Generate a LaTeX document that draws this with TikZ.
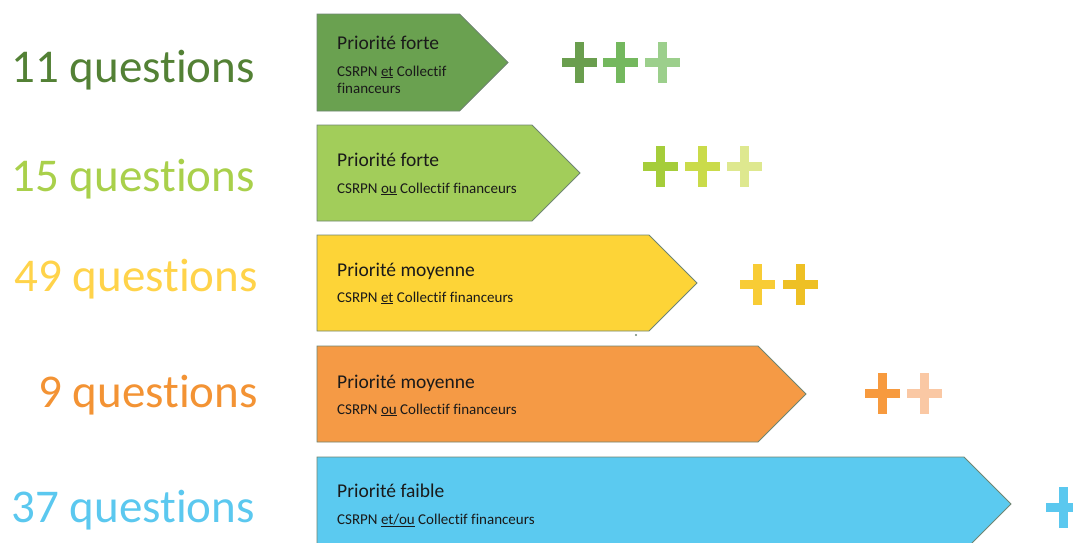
\documentclass[tikz,border=0pt]{standalone}
\usepackage{fontspec}
\setmainfont{Carlito}[RawFeature={-liga}]
\definecolor{cA}{HTML}{6AA150}
\definecolor{cB}{HTML}{A2CD5A}
\definecolor{cC}{HTML}{FDD437}
\definecolor{cD}{HTML}{F59A45}
\definecolor{cE}{HTML}{5BCAF0}
\definecolor{tA}{HTML}{538135}
\definecolor{tB}{HTML}{A9D04B}
\definecolor{tC}{HTML}{FFD34A}
\definecolor{tD}{HTML}{F39334}
\definecolor{tE}{HTML}{5BC8EF}
\definecolor{pA1}{HTML}{6A9E4E}
\definecolor{pA2}{HTML}{74B85E}
\definecolor{pA3}{HTML}{9CCF8C}
\definecolor{pB1}{HTML}{A5CD3A}
\definecolor{pB2}{HTML}{CADB4A}
\definecolor{pB3}{HTML}{DEE88F}
\definecolor{pC1}{HTML}{F8CC35}
\definecolor{pC2}{HTML}{EEC024}
\definecolor{pD1}{HTML}{F79A3E}
\definecolor{pD2}{HTML}{FAC8A4}
\definecolor{pE1}{HTML}{5BC8EF}
\definecolor{edge}{HTML}{6F8572}
\definecolor{ink}{HTML}{1A1A1A}
\newcommand{\arrowbox}[4]{%
  \pgfmathsetmacro{\hh}{(#2-#1)/2}%
  \pgfmathsetmacro{\mm}{(#2+#1)/2}%
  \pgfmathsetmacro{\cc}{#3-\hh}%
  \filldraw[fill=#4, draw=edge, line width=0.8pt] (317,#1) -- (\cc,#1) -- (#3,\mm) -- (\cc,#2) -- (317,#2) -- cycle;}
\newcommand{\plusat}[3]{%
  \fill[#3] (#1-17.5,#2-4.5) rectangle (#1+17.5,#2+4.5);
  \fill[#3] (#1-4.5,#2-20.5) rectangle (#1+4.5,#2+20.5);}
\tikzset{
  qlabel/.style={anchor=base east, inner sep=0pt, font=\fontsize{47}{50}\selectfont},
  ttl/.style={anchor=base west, inner sep=0pt, text=ink, font=\fontsize{19.5}{22}\selectfont},
  sub/.style={anchor=base west, inner sep=0pt, text=ink, align=left, font=\fontsize{15}{18}\selectfont}
}
\begin{document}
\begin{tikzpicture}[x=1pt,y=-1pt]
\useasboundingbox (0,0) rectangle (1073,542);
\clip (0,0) rectangle (1073,542);
% arrows
\arrowbox{14}{111}{508}{cA}
\arrowbox{125}{221}{580}{cB}
\arrowbox{235}{331}{697}{cC}
\arrowbox{346}{442}{806}{cD}
\arrowbox{457}{551}{1011}{cE}
% left labels
\node[qlabel, text=tA] (q1) at (255,82) {11 questions};
\node[qlabel, text=tB] (q2) at (255,191) {15 questions};
\node[qlabel, text=tC] (q3) at (258,291) {49 questions};
\node[qlabel, text=tD] (q4) at (258,407) {9 questions};
\node[qlabel, text=tE] (q5) at (255,522) {37 questions};
% titles
\node[ttl] (t1) at (337,49) {Priorité forte};
\node[sub] (s1) at (337,76) {CSRPN \underline{et} Collectif};
\node[sub] (s1b) at (337,93) {financeurs};
\node[ttl] (t2) at (337,166) {Priorité forte};
\node[sub] (s2) at (337,193) {CSRPN \underline{ou} Collectif financeurs};
\node[ttl] (t3) at (337,276) {Priorité moyenne};
\node[sub] (s3) at (337,302) {CSRPN \underline{et} Collectif financeurs};
\node[ttl] (t4) at (337,388) {Priorité moyenne};
\node[sub] (s4) at (337,414) {CSRPN \underline{ou} Collectif financeurs};
\node[ttl] (t5) at (337,497) {Priorité faible};
\node[sub] (s5) at (337,524) {CSRPN \underline{et/ou} Collectif financeurs};
% plus signs
\plusat{579}{62.5}{pA1}
\plusat{620.5}{62.5}{pA2}
\plusat{662.5}{62.5}{pA3}
\plusat{660.5}{166}{pB1}
\plusat{702.5}{166}{pB2}
\plusat{744.5}{166}{pB3}
\plusat{757.5}{284}{pC1}
\plusat{800}{284}{pC2}
\plusat{882.5}{393.5}{pD1}
\plusat{924.5}{393.5}{pD2}
\plusat{1063.5}{507.5}{pE1}
% small dot
\fill[edge] (636,335) circle (1.2pt);
\end{tikzpicture}
\end{document}
